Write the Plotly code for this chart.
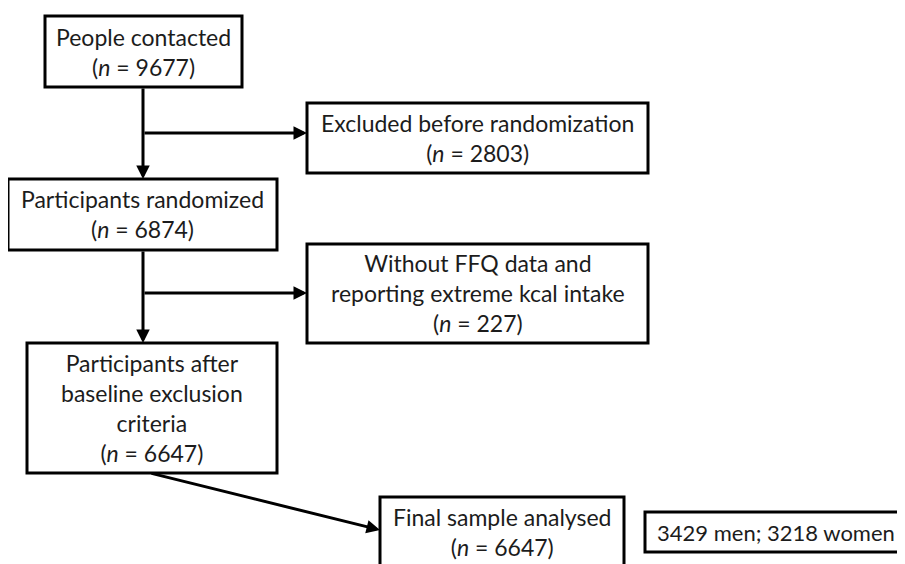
import plotly.graph_objects as go

# ---- data (text content of the flowchart) ----
stage_labels = [
    "People contacted",
    "Excluded before randomization",
    "Participants randomized",
    "Without FFQ data and<br>reporting extreme kcal intake",
    "Participants after<br>baseline exclusion<br>criteria",
    "Final sample analysed",
]
stage_counts = [9677, 2803, 6874, 227, 6647, 6647]
sex_labels = ["men", "women"]
sex_counts = [3429, 3218]

# ---- layout (page-pixel geometry, y downward) ----
W, H = 905, 564
OFF = 8  # page body margin
boxes = [  # x0, y0, x1, y1
    (45, 16, 242, 87),
    (307, 103, 648, 173),
    (8, 179, 277, 250),
    (307, 244, 648, 343),
    (27, 343, 277, 473),
    (380, 497, 624, 570),
]
text_y = [52, 138, 214, 293, 408, 532]
side_box = (645, 512, 915, 552)

FONT = "Lato"
FS = 23
LW = 3
TXT = "#1c1c1c"

fig = go.Figure()
shapes = []
annotations = []

for (x0, y0, x1, y1), ty, lab, n in zip(boxes, text_y, stage_labels, stage_counts):
    shapes.append(dict(type="rect", x0=x0, y0=y0, x1=x1, y1=y1, xref="x", yref="y",
                       line=dict(color="black", width=LW), fillcolor="white", layer="below"))
    annotations.append(dict(x=(x0 + x1) / 2, y=ty, xref="x", yref="y", showarrow=False,
                            text=f"{lab}<br>(<i>n</i> = {n})",
                            font=dict(family=FONT, size=FS, color=TXT), align="center"))

x0, y0, x1, y1 = side_box
shapes.append(dict(type="rect", x0=x0, y0=y0, x1=x1, y1=y1, xref="x", yref="y",
                   line=dict(color="black", width=LW), fillcolor="white", layer="below"))
annotations.append(dict(x=655, y=(y0 + y1) / 2, xref="x", yref="y", showarrow=False,
                        xanchor="left",
                        text=f"{sex_counts[0]} {sex_labels[0]}; {sex_counts[1]} {sex_labels[1]}",
                        font=dict(family=FONT, size=22, color=TXT)))


def arrow(xt, yt, xh, yh):
    annotations.append(dict(x=xh, y=yh, ax=xt, ay=yt, xref="x", yref="y", axref="x", ayref="y",
                            text="", showarrow=True, arrowhead=2, arrowsize=0.9,
                            arrowwidth=LW, arrowcolor="black", standoff=0))


cx = 143
arrow(cx, boxes[0][3], cx, boxes[2][1])
arrow(cx, 133, boxes[1][0], 133)
arrow(cx, boxes[2][3], cx, boxes[4][1])
arrow(cx, 293, boxes[3][0], 293)
arrow(150, boxes[4][3], boxes[5][0], 530)

fig.update_layout(
    width=W, height=H,
    margin=dict(l=0, r=0, t=0, b=0),
    paper_bgcolor="white", plot_bgcolor="white",
    xaxis=dict(range=[OFF, W + OFF], visible=False, fixedrange=True),
    yaxis=dict(range=[H + OFF, OFF], visible=False, fixedrange=True),
    shapes=shapes, annotations=annotations, showlegend=False,
)
fig.write_html("out.html")
